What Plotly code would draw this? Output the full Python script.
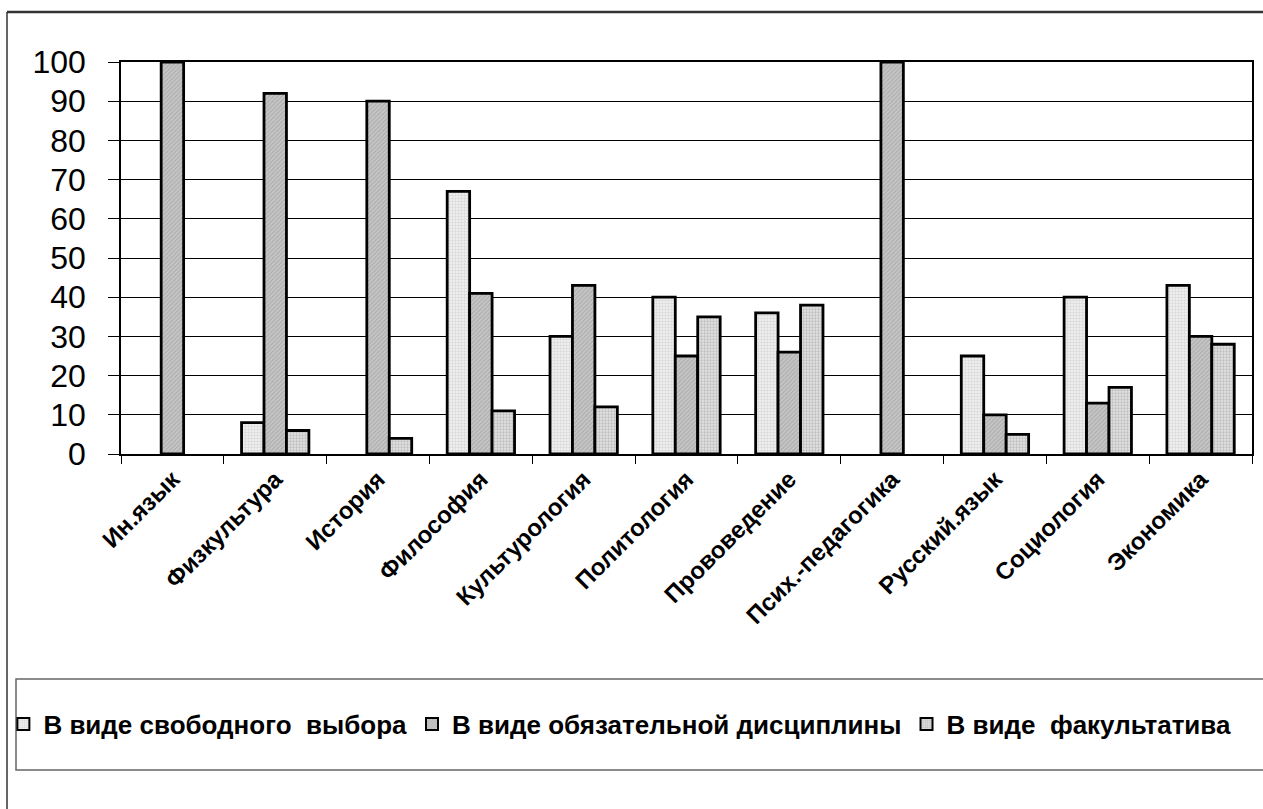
import plotly.graph_objects as go

# Subjects and the share (%) of each form of study
subjects = ["Ин.язык", "Физкультура", "История", "Философия", "Культурология",
            "Политология", "Прововедение", "Псих.-педагогика", "Русский.язык",
            "Социология", "Экономика"]
free_choice = [0, 8, 0, 67, 30, 40, 36, 0, 25, 40, 43]
mandatory = [100, 92, 90, 41, 43, 25, 26, 100, 10, 13, 30]
optional = [0, 6, 4, 11, 12, 35, 38, 0, 5, 17, 28]

series_names = ["В виде свободного\u00a0 выбора",
                "В виде обязательной дисциплины",
                "В виде\u00a0 факультатива"]

y_ticks = [0, 10, 20, 30, 40, 50, 60, 70, 80, 90, 100]

FONT = "Liberation Sans, Arial, sans-serif"

styles = [
    dict(bgcolor="#f4f4f4", fgcolor="#bdbdbd", shape=".", size=3, solidity=0.5),
    dict(bgcolor="#c6c6c6", fgcolor="#8f8f8f", shape="/", size=3, solidity=0.35),
    dict(bgcolor="#e2e2e2", fgcolor="#9a9a9a", shape=".", size=3, solidity=0.45),
]

fig = go.Figure()
for i, (name, vals, pat) in enumerate(zip(series_names,
                                          [free_choice, mandatory, optional], styles)):
    # zero-height bars get no outline so they do not thicken the axis line
    fig.add_trace(go.Bar(
        name=name, x=subjects, y=vals, showlegend=False, legendgroup=name,
        offsetgroup=str(i),
        marker=dict(color=pat["bgcolor"], pattern=pat,
                    line=dict(color="black",
                              width=[2.8 if v > 0 else 0 for v in vals])),
    ))
# legend entries with a uniform outline, sharing the series' bar slots
for i, (name, pat) in enumerate(zip(series_names, styles)):
    fig.add_trace(go.Bar(
        name=name, x=[subjects[0]], y=[None], legendgroup=name,
        offsetgroup=str(i),
        marker=dict(color=pat["bgcolor"], pattern=pat,
                    line=dict(color="black", width=2)),
    ))

fig.update_layout(
    width=1263, height=809,
    barmode="group", bargap=0.345, bargroupgap=0,
    paper_bgcolor="white", plot_bgcolor="white",
    margin=dict(l=121, r=11, t=62, b=355, autoexpand=False),
    font=dict(family=FONT, color="black"),
    showlegend=True,
    legend=dict(orientation="h", x=-0.104, y=(454 - 724) / 392,
                xanchor="left", yanchor="middle",
                font=dict(size=26, family=FONT, weight="bold"),
                itemwidth=30, tracegroupgap=0,
                bgcolor="rgba(0,0,0,0)"),
)

fig.update_xaxes(
    type="category", tickangle=-45, automargin=False,
    range=[-0.5, len(subjects) - 0.5],
    tickfont=dict(size=24, family=FONT, weight="bold"),
    ticks="outside", ticklen=8, tickcolor="black", tickwidth=1,
    tickson="boundaries",
    showline=True, linecolor="black", linewidth=1.5, mirror=True,
    showgrid=False,
)
fig.update_yaxes(
    range=[0, 100], tickvals=y_ticks, automargin=False,
    tickfont=dict(size=32, family=FONT),
    ticks="outside", ticklen=11, tickcolor="black", tickwidth=1,
    ticklabelstandoff=16,
    showline=True, linecolor="black", linewidth=1.5, mirror=True,
    showgrid=True, gridcolor="black", gridwidth=1,
    zeroline=False,
)

# Outer chart frame (top and left edges) and the legend box
top = (809 - 12 - 355) / 392
left = -114 / 1131
fig.add_shape(type="line", xref="paper", yref="paper",
              x0=left, x1=1.02, y0=top, y1=top,
              line=dict(color="#333333", width=2.5))
fig.add_shape(type="line", xref="paper", yref="paper",
              x0=left, x1=left, y0=top, y1=-355 / 392 - 0.01,
              line=dict(color="#333333", width=1.5))
fig.add_shape(type="rect", xref="paper", yref="paper",
              x0=-105 / 1131, x1=1.02, y0=(454 - 770) / 392, y1=(454 - 679) / 392,
              line=dict(color="#666666", width=1.5), fillcolor="rgba(0,0,0,0)")

fig.write_html("out.html")
